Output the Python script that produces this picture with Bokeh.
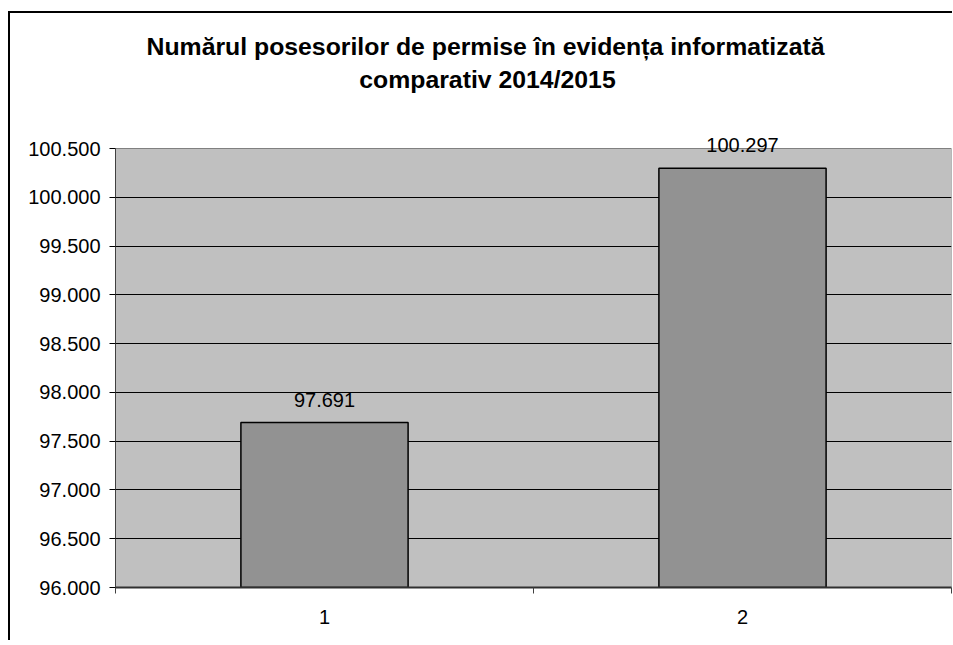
from bokeh.plotting import figure
from bokeh.models import Range1d, FixedTicker, ColumnDataSource, LabelSet, Label
from bokeh.core.properties import value
from bokeh.embed import file_html
from bokeh.resources import INLINE

# ---- data ----
categories = ["1", "2"]
values = [97691, 100297]
value_labels = ["97.691", "100.297"]
y_ticks = [96000, 96500, 97000, 97500, 98000, 98500, 99000, 99500, 100000, 100500]
y_tick_labels = ["96.000", "96.500", "97.000", "97.500", "98.000",
                 "98.500", "99.000", "99.500", "100.000", "100.500"]
title_lines = ["Numărul posesorilor de permise în evidența informatizată",
               "comparativ 2014/2015"]

FONT = "Liberation Sans"

# layout (pixels)
W, H = 944, 640
FRAME_BOTTOM = 587          # frame spans from the top of the canvas down to here
PLOT_AREA_H = 439           # height of the grey plot area (96.000 .. 100.500)

y_lo, y_hi = y_ticks[0], y_ticks[-1]
y_end = y_lo + (y_hi - y_lo) * FRAME_BOTTOM / PLOT_AREA_H

p = figure(width=W, height=H, output_backend="svg", toolbar_location=None,
           x_range=Range1d(0, len(categories)), y_range=Range1d(y_lo, y_end),
           min_border_left=107, min_border_right=1, min_border_top=0,
           min_border_bottom=H - FRAME_BOTTOM)
p.styles = {"margin-left": "8px",
            "box-shadow": "inset 0 11px 0 0 #ffffff, inset 2px 13px 0 0 #000000"}
p.border_fill_color = None
p.background_fill_color = None
p.outline_line_color = None

# grey plot area
p.quad(left=[0], right=[len(categories)], bottom=[y_lo], top=[y_hi],
       fill_color="#C0C0C0", line_color="#808080", line_width=1, level="image")

xs = [i + 0.5 for i in range(len(categories))]
src = ColumnDataSource(dict(x=xs, top=values, lab=value_labels))

p.vbar(x="x", top="top", bottom=y_lo, width=0.4, source=src,
       fill_color="#929292", line_color="#000000", line_width=1.5)

labels = LabelSet(x="x", y="top", text="lab", source=src, text_align="center",
                  text_baseline="alphabetic", y_offset=16, text_font=value(FONT),
                  text_font_size="20px", text_color="#000000")
p.add_layout(labels)

# y axis
p.yaxis.bounds = (y_lo, y_hi)
p.yaxis.ticker = FixedTicker(ticks=y_ticks)
p.yaxis.major_label_overrides = {t: l for t, l in zip(y_ticks, y_tick_labels)}
p.yaxis.major_label_text_font = FONT
p.yaxis.major_label_text_font_size = "20px"
p.yaxis.major_label_text_color = "#000000"
p.yaxis.major_tick_out = 6
p.yaxis.major_tick_in = 0
p.yaxis.major_tick_line_color = "#000000"
p.yaxis.minor_tick_line_color = None
p.yaxis.axis_line_color = "#404040"
p.yaxis.major_label_standoff = 9

# x axis: labels at category centers, tick marks at category boundaries
p.xaxis.ticker = FixedTicker(ticks=xs, minor_ticks=list(range(len(categories) + 1)))
p.xaxis.major_label_overrides = {x: c for x, c in zip(xs, categories)}
p.xaxis.major_label_text_font = FONT
p.xaxis.major_label_text_font_size = "20px"
p.xaxis.major_label_text_color = "#000000"
p.xaxis.major_tick_out = 0
p.xaxis.major_tick_in = 0
p.xaxis.minor_tick_out = 6
p.xaxis.minor_tick_in = 0
p.xaxis.minor_tick_line_color = "#404040"
p.xaxis.axis_line_color = "#303030"
p.xaxis.axis_line_width = 2
p.xaxis.major_label_standoff = 16

# grid
p.xgrid.grid_line_color = None
p.ygrid.ticker = FixedTicker(ticks=y_ticks[1:-1])
p.ygrid.grid_line_color = "#000000"
p.ygrid.grid_line_width = 1

# title lines (screen units, relative to frame bottom-left)
p.add_layout(Label(x=370, y=FRAME_BOTTOM - 46, x_units="screen", y_units="screen",
                   text=title_lines[0], text_align="center", text_baseline="alphabetic",
                   text_font=FONT, text_font_size="24.8px", text_font_style="bold",
                   text_color="#000000"))
p.add_layout(Label(x=372, y=FRAME_BOTTOM - 79, x_units="screen", y_units="screen",
                   text=title_lines[1], text_align="center", text_baseline="alphabetic",
                   text_font=FONT, text_font_size="24.8px", text_font_style="bold",
                   text_color="#000000"))

open("out.html", "w").write(file_html(p, INLINE))
